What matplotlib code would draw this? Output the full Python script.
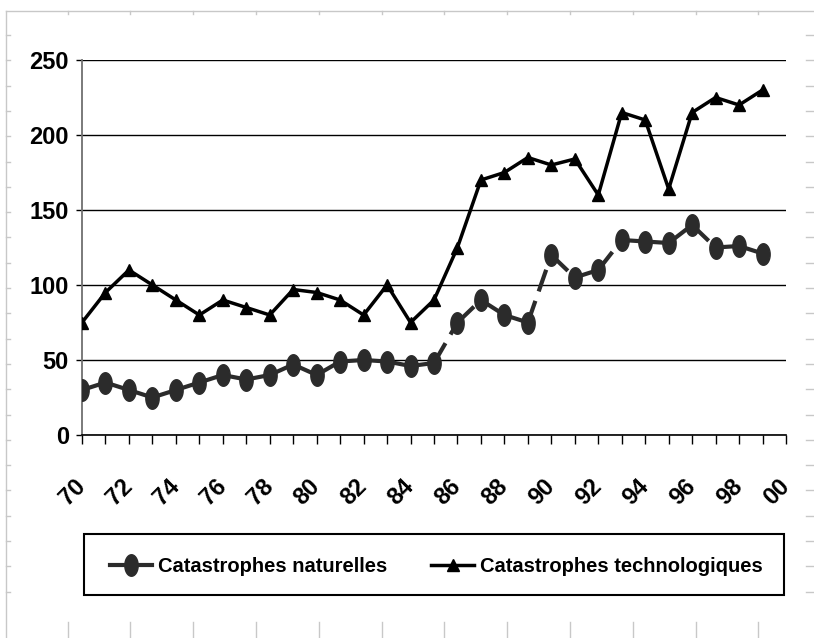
import matplotlib
matplotlib.use("Agg")
import matplotlib.pyplot as plt
import numpy as np
from matplotlib.collections import LineCollection
from matplotlib.lines import Line2D
from matplotlib.patches import Rectangle

plt.rcParams['font.family'] = ['Liberation Sans', 'DejaVu Sans']
plt.rcParams['font.weight'] = 'bold'

# data (years 1970-1999)
years = list(range(70, 100))
naturelles = [30, 35, 30, 25, 30, 35, 40, 37, 40, 47,
              40, 49, 50, 49, 46, 48, 75, 90, 80, 75,
              120, 105, 110, 130, 129, 128, 140, 125, 126, 121]
technologiques = [75, 95, 110, 100, 90, 80, 90, 85, 80, 97,
                  95, 90, 80, 100, 75, 90, 125, 170, 175, 185,
                  180, 184, 160, 215, 210, 164, 215, 225, 220, 230]
tick_years = list(range(70, 101, 2))
tick_labels = ['%02d' % (y % 100) for y in tick_years]
y_ticks = [0, 50, 100, 150, 200, 250]
series_names = ['Catastrophes naturelles', 'Catastrophes technologiques']

W, H = 814, 638
fig = plt.figure(figsize=(W / 100, H / 100), dpi=100)
ax = fig.add_axes([82 / W, 1 - 435 / H, (786 - 82) / W, (435 - 60) / H])

# page-ruler like frame in light gray
gray = '#c8c8c8'
def px_line(x0, y0, x1, y1, lw=1.0):
    fig.add_artist(Line2D([x0 / W, x1 / W], [1 - y0 / H, 1 - y1 / H],
                          transform=fig.transFigure, color=gray, lw=lw))

px_line(5.5, 11, 5.5, H)
px_line(5.5, 11, W, 11)
for k in range(12):
    x = 67.5 + 62.8 * k
    px_line(x, 11, x, 14)
    px_line(x, 622, x, H)
for k in range(23):
    y = 35 + 25.3 * k
    px_line(5.5, y, 10, y)
    px_line(806, y, W, y)

# ellipse marker for the natural disasters series
t = np.linspace(0, 2 * np.pi, 40)
ellipse = np.column_stack([0.62 * np.cos(t), np.sin(t)])

nat_color = '#2b2b2b'
pts = np.column_stack([years, naturelles])
segs = np.stack([pts[:-1], pts[1:]], axis=1)
lc = LineCollection(segs, colors=nat_color, linewidths=3.0,
                    linestyles=[(0, (5.5, 2.4))], capstyle='butt', zorder=3)
ax.add_collection(lc)
ax.plot(years, naturelles, linestyle='none', marker=ellipse, markersize=15.5,
        color=nat_color, zorder=4)

ax.plot(years, technologiques, color='black', lw=2.5, marker='^',
        markersize=8.5, zorder=5)

ax.set_xlim(70, 100)
ax.set_ylim(0, 250)
ax.set_yticks(y_ticks)
ax.set_yticklabels([str(v) for v in y_ticks])
ax.set_xticks(tick_years)
ax.set_xticklabels(tick_labels)
ax.set_xticks(years[1::2], minor=True)
ax.yaxis.grid(True, color='black', lw=1.0)
ax.set_axisbelow(True)

for s in ['top', 'right']:
    ax.spines[s].set_visible(False)
ax.spines['left'].set_color('#707070')
ax.spines['left'].set_linewidth(1.3)
ax.spines['bottom'].set_color('black')
ax.spines['bottom'].set_linewidth(1.2)

ax.tick_params(axis='y', length=4.5, width=1, colors='black', labelsize=17, pad=5)
ax.tick_params(axis='x', which='both', length=6.5, width=1, colors='black',
               direction='out')
ax.tick_params(axis='x', which='major', labelsize=17, pad=28)
for lab in ax.get_xticklabels():
    lab.set_rotation(45)
    lab.set_rotation_mode('anchor')
    lab.set_ha('right')
    lab.set_va('center')
for lab in ax.get_xticklabels() + ax.get_yticklabels():
    lab.set_fontweight('bold')

# legend box
fig.add_artist(Rectangle((84 / W, 1 - 595 / H), 700 / W, 61 / H,
                         transform=fig.transFigure, facecolor='white',
                         edgecolor='black', lw=1.5))
handles = [Line2D([], [], color=nat_color, lw=3.0, marker=ellipse, markersize=15.5),
           Line2D([], [], color='black', lw=2.5, marker='^', markersize=8.5)]
fig.legend(handles, series_names, loc='center',
           bbox_to_anchor=(436 / W, 1 - 567 / H), ncol=2, frameon=False,
           prop={'size': 14.5, 'weight': 'bold'}, handlelength=2.1,
           handletextpad=0.3, columnspacing=2.2, borderpad=0)

fig.savefig('out.png', dpi=100, facecolor='white')
